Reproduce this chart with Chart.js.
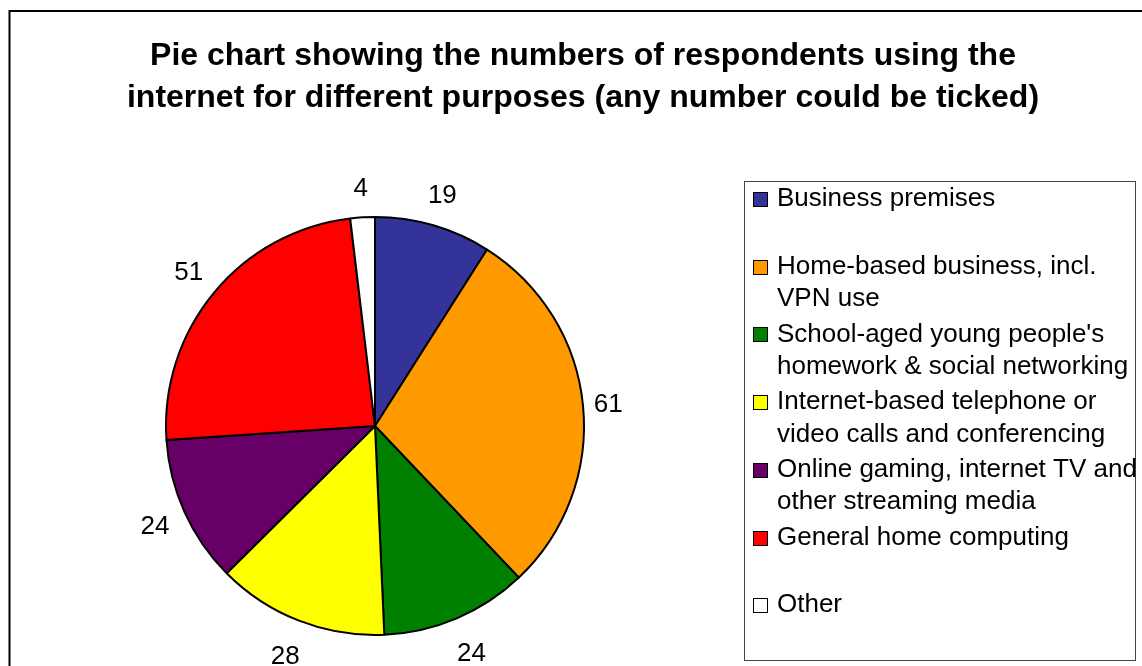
<!DOCTYPE html>
<html>
<head>
<meta charset="utf-8">
<script src="https://cdn.jsdelivr.net/npm/chart.js@4/dist/chart.umd.min.js"></script>
<style>
  html, body { margin: 0; padding: 0; background: #fff; }
</style>
</head>
<body>
<canvas id="chart" width="1142" height="666"></canvas>
<script>
var titleLines = [
  "Pie chart showing the numbers of respondents using the",
  "internet for different purposes (any number could be ticked)",
];
var purposes = [
  ["Business premises"],
  ["Home-based business, incl.", "VPN use"],
  ["School-aged young people's", "homework & social networking"],
  ["Internet-based telephone or", "video calls and conferencing"],
  ["Online gaming, internet TV and", "other streaming media"],
  ["General home computing"],
  ["Other"],
];
var respondents = [19, 61, 24, 28, 24, 51, 4];
var sliceColours = ["#333399", "#FF9900", "#008000", "#FFFF00", "#660066", "#FF0000", "#FFFFFF"];

var font = "'Liberation Sans', Arial, sans-serif";

// outer frame + title
var framePlugin = {
  id: "frame",
  beforeDraw: function (chart) {
    var ctx = chart.ctx;
    ctx.save();
    ctx.fillStyle = "#fff";
    ctx.fillRect(0, 0, chart.width, chart.height);
    ctx.strokeStyle = "#000";
    ctx.lineWidth = 2;
    ctx.strokeRect(9.5, 11, 2000, 2000);
    ctx.fillStyle = "#000";
    ctx.font = "bold 32px " + font;
    ctx.textAlign = "center";
    ctx.textBaseline = "alphabetic";
    ctx.fillText(titleLines[0], 583, 65);
    ctx.fillText(titleLines[1], 583, 107);
    ctx.restore();
  },
};

// value labels just outside each slice
var valuePlugin = {
  id: "values",
  afterDatasetsDraw: function (chart) {
    var ctx = chart.ctx;
    var meta = chart.getDatasetMeta(0);
    ctx.save();
    ctx.font = "26px " + font;
    ctx.fillStyle = "#000";
    ctx.textAlign = "center";
    ctx.textBaseline = "middle";
    meta.data.forEach(function (arc, i) {
      var p = arc.getProps(["x", "y", "startAngle", "endAngle", "outerRadius"], true);
      var mid = (p.startAngle + p.endAngle) / 2;
      var ux = Math.cos(mid);
      var uy = Math.sin(mid);
      var text = String(respondents[i]);
      var w = ctx.measureText(text).width;
      var hh = uy > 0 ? 25 : 20;
      var d = p.outerRadius + 9 + (w / 2) * Math.abs(ux) + hh * Math.abs(uy);
      ctx.fillText(text, p.x + ux * d, p.y + uy * d + 1);
    });
    ctx.restore();
  },
};

// boxed legend on the right
var legendPlugin = {
  id: "legendBox",
  afterDraw: function (chart) {
    var ctx = chart.ctx;
    ctx.save();
    ctx.strokeStyle = "#444";
    ctx.lineWidth = 1;
    ctx.strokeRect(744.5, 181.5, 391, 479);
    ctx.font = "26px " + font;
    ctx.textAlign = "left";
    ctx.textBaseline = "middle";
    purposes.forEach(function (lines, i) {
      var y = 199 + i * 67.7;
      ctx.fillStyle = sliceColours[i];
      ctx.fillRect(753, Math.round(y) - 7, 15, 15);
      ctx.strokeStyle = "#000";
      ctx.strokeRect(753.5, Math.round(y) - 6.5, 14, 14);
      ctx.fillStyle = "#000";
      lines.forEach(function (line, j) {
        ctx.fillText(line, 777, y + j * 32.5);
      });
    });
    ctx.restore();
  },
};

var chart = new Chart("chart", {
  type: "pie",
  data: {
    labels: purposes.map(function (l) { return l.join(" "); }),
    datasets: [
      {
        data: respondents,
        backgroundColor: sliceColours,
        borderColor: "#000",
        borderWidth: 2,
        hoverOffset: 0,
      },
    ],
  },
  options: {
    responsive: false,
    animation: false,
    layout: { padding: { left: 165, top: 216, right: 557, bottom: 30 } },
    plugins: {
      legend: { display: false },
      title: { display: false },
      tooltip: { enabled: false },
    },
  },
  plugins: [framePlugin, valuePlugin, legendPlugin],
});
</script>
</body>
</html>
